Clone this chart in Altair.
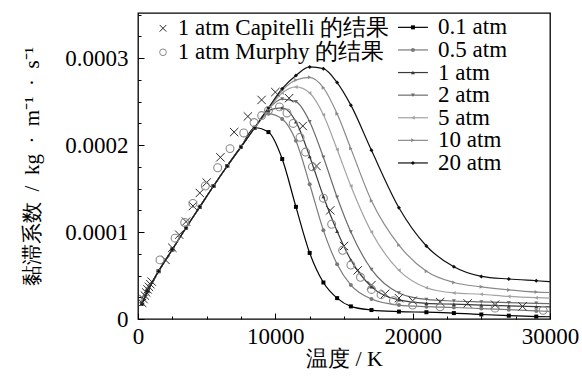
import altair as alt
import pandas as pd

# ---------------- data ----------------
series_names = ["0.1 atm", "0.5 atm", "1 atm", "2 atm", "5 atm", "10 atm", "20 atm"]

T_grid = [300, 700, 1500, 2500, 3500, 4500, 5500, 6500, 7500, 8500, 9500, 10500,
          11500, 12500, 13500, 14500, 15500, 17000, 19000, 21000, 23000, 25000,
          27000, 29000, 30000]

mu_01 = [1.75e-5, 3.2e-5, 5.5e-5, 8.0e-5, 10.5e-5, 12.9e-5, 15.3e-5, 17.6e-5, 19.8e-5, 22.0e-5,
         21.5e-5, 18.4e-5, 12.9e-5, 7.6e-5, 4.2e-5, 2.4e-5, 1.45e-5, 1.03e-5, 0.85e-5, 0.78e-5,
         0.68e-5, 0.52e-5, 0.38e-5, 0.28e-5, 0.26e-5]
mu_05 = [1.75e-5, 3.2e-5, 5.5e-5, 8.0e-5, 10.5e-5, 12.9e-5, 15.3e-5, 17.6e-5, 19.8e-5, 22.0e-5,
         23.6e-5, 23.0e-5, 20.5e-5, 15.5e-5, 10.2e-5, 6.3e-5, 3.9e-5, 2.3e-5, 1.6e-5, 1.42e-5,
         1.32e-5, 1.2e-5, 1.07e-5, 0.93e-5, 0.88e-5]
mu_1 = [1.75e-5, 3.2e-5, 5.5e-5, 8.0e-5, 10.5e-5, 12.9e-5, 15.3e-5, 17.6e-5, 19.8e-5, 22.0e-5,
        24.0e-5, 24.3e-5, 22.7e-5, 18.7e-5, 14.1e-5, 10.1e-5, 6.8e-5, 3.7e-5, 2.2e-5, 1.8e-5,
        1.7e-5, 1.6e-5, 1.5e-5, 1.42e-5, 1.4e-5]
mu_2 = [1.75e-5, 3.2e-5, 5.5e-5, 8.0e-5, 10.5e-5, 12.9e-5, 15.3e-5, 17.6e-5, 19.8e-5, 22.0e-5,
        24.2e-5, 25.3e-5, 25.0e-5, 22.7e-5, 18.6e-5, 14.0e-5, 10.0e-5, 5.7e-5, 3.0e-5, 2.25e-5,
        2.07e-5, 1.97e-5, 1.88e-5, 1.8e-5, 1.77e-5]
mu_5 = [1.75e-5, 3.2e-5, 5.5e-5, 8.0e-5, 10.5e-5, 12.9e-5, 15.3e-5, 17.6e-5, 19.8e-5, 22.0e-5,
        24.2e-5, 26.0e-5, 26.7e-5, 26.0e-5, 23.5e-5, 19.5e-5, 15.3e-5, 10.0e-5, 5.6e-5, 3.6e-5,
        3.0e-5, 2.85e-5, 2.6e-5, 2.45e-5, 2.4e-5]
mu_10 = [1.75e-5, 3.2e-5, 5.5e-5, 8.0e-5, 10.5e-5, 12.9e-5, 15.3e-5, 17.6e-5, 19.8e-5, 22.0e-5,
         24.2e-5, 26.3e-5, 27.5e-5, 27.8e-5, 26.6e-5, 23.6e-5, 19.6e-5, 13.6e-5, 8.5e-5, 5.5e-5,
         4.2e-5, 3.7e-5, 3.35e-5, 3.1e-5, 3.05e-5]
mu_20 = [1.75e-5, 3.2e-5, 5.5e-5, 8.0e-5, 10.5e-5, 12.9e-5, 15.3e-5, 17.6e-5, 19.8e-5, 22.0e-5,
         24.3e-5, 26.5e-5, 28.0e-5, 29.0e-5, 28.8e-5, 27.2e-5, 24.6e-5, 19.4e-5, 12.8e-5, 8.4e-5,
         6.0e-5, 4.9e-5, 4.6e-5, 4.4e-5, 4.3e-5]

cap_T = [300, 400, 500, 600, 700, 800, 900, 1000, 2000, 2500, 3000, 3500, 4000, 4500, 5000,
         6000, 7000, 8000, 9000, 10000, 11000, 12000, 13000, 14000, 15000, 16000, 17000,
         18000, 19000, 20000, 22000, 24000, 26000, 28000]
cap_mu = [1.85e-5, 2.3e-5, 2.7e-5, 3.05e-5, 3.4e-5, 3.7e-5, 4.0e-5, 4.3e-5, 6.8e-5, 8.2e-5,
          9.7e-5, 11.2e-5, 13.0e-5, 14.5e-5, 15.7e-5, 18.6e-5, 21.5e-5, 23.3e-5, 25.2e-5,
          26.1e-5, 25.4e-5, 22.2e-5, 17.6e-5, 12.5e-5, 8.4e-5, 5.6e-5, 3.9e-5, 2.9e-5, 2.4e-5,
          2.1e-5, 1.95e-5, 1.8e-5, 1.65e-5, 1.45e-5]

mur_T = [1600, 2700, 3400, 4000, 4900, 5800, 6700, 7700, 8450, 9000, 9500, 10300, 10850,
         11300, 11800, 12200, 12700, 13500, 14100, 14900, 15500, 16200, 17000, 17700, 18600,
         20000, 22000, 26000, 29500]
mur_mu = [6.8e-5, 9.3e-5, 11.1e-5, 13.3e-5, 15.3e-5, 17.4e-5, 19.6e-5, 21.4e-5, 22.6e-5,
          23.4e-5, 24.0e-5, 24.4e-5, 23.7e-5, 22.5e-5, 20.9e-5, 19.2e-5, 17.5e-5, 13.9e-5,
          10.9e-5, 7.9e-5, 6.2e-5, 4.8e-5, 3.4e-5, 2.8e-5, 2.1e-5, 1.6e-5, 1.4e-5, 1.25e-5,
          1.0e-5]

cap_label = "1 atm Capitelli 的结果"
mur_label = "1 atm Murphy 的结果"
x_title = "温度 / K"
y_title = "黏滞系数\u2002/\u2002kg\u2002·\u2002m⁻¹\u2002·\u2002s⁻¹"

x_ticks = [0, 2500, 5000, 7500, 10000, 12500, 15000, 17500, 20000, 22500, 25000, 27500, 30000]
y_ticks = [0.0, 0.000025, 0.00005, 0.000075, 0.0001, 0.000125, 0.00015, 0.000175, 0.0002,
           0.000225, 0.00025, 0.000275, 0.0003, 0.000325, 0.00035]

# ---------------- styles ----------------
series_colors = ["#000000", "#7a7a7a", "#3a3a3a", "#6c6c6c", "#a2a2a2", "#8a8a8a", "#101010"]
series_shapes = ["square", "circle", "triangle-up", "triangle-down", "triangle-left",
                 "triangle-right", "diamond"]
FONT = "Liberation Serif"
FS = 23

all_mu = [mu_01, mu_05, mu_1, mu_2, mu_5, mu_10, mu_20]
rows = []
for name, vals in zip(series_names, all_mu):
    for t, v in zip(T_grid, vals):
        rows.append({"T": t, "mu": v, "series": name})
df = pd.DataFrame(rows)
df["marker"] = df["T"] < 30000

df_cap = pd.DataFrame({"T": cap_T, "mu": cap_mu})
df_mur = pd.DataFrame({"T": mur_T, "mu": mur_mu})

# legend placement in data units
leg_top = 3.355e-4
leg_step = 2.6e-5
df_leg = pd.DataFrame({
    "series": series_names,
    "mu": [leg_top - i * leg_step for i in range(len(series_names))],
})
df_leg["T"] = 18930
df_leg["T2"] = 21110
df_leg_mark = df_leg.assign(T=20020)
df_leg_text = df_leg.assign(T=21850)

df_leg2 = pd.DataFrame({"label": [cap_label, mur_label], "mu": [3.344e-4, 3.068e-4]})
df_leg2["T"] = 1820
df_leg2_text = df_leg2.assign(T=2900)

# ---------------- axes ----------------
x_axis = alt.Axis(
    values=x_ticks,
    labelExpr="datum.value % 10000 === 0 ? format(datum.value, 'd') : ''",
    tickSize=6, offset=-6, domain=False, grid=False,
    tickColor="black", tickWidth=1,
    tickDash={"condition": {"test": "datum.value % 10000 === 0", "value": [6, 0]},
              "value": [0, 3, 3]},
    labelPadding=6, labelOverlap=False, labelFlush=False,
    labelFont=FONT, labelFontSize=FS, labelColor="black",
    titleFont=FONT, titleFontSize=22, titleFontWeight="normal", titleColor="black",
    titlePadding=0,
)
y_major_test = "abs(datum.value * 10000 - round(datum.value * 10000)) < 0.001"
y_axis = alt.Axis(
    values=y_ticks,
    labelExpr=f"{y_major_test} ? (datum.value == 0 ? '0' : format(datum.value, '.4f')) : ''",
    tickSize=6, offset=-6, domain=False, grid=False,
    tickColor="black", tickWidth=1,
    tickDash={"condition": {"test": y_major_test, "value": [6, 0]}, "value": [0, 3, 3]},
    labelPadding=10, labelOverlap=False, labelFlush=False,
    labelFont=FONT, labelFontSize=FS, labelColor="black",
    titleFont=FONT, titleFontSize=21, titleFontWeight="normal", titleColor="black",
    titlePadding=22,
)

xs = alt.Scale(domain=[0, 30000], nice=False, zero=False)
ys = alt.Scale(domain=[0, 0.000352], nice=False, zero=False)
X = alt.X("T:Q", scale=xs, axis=x_axis, title=x_title)
Y = alt.Y("mu:Q", scale=ys, axis=y_axis, title=y_title)
color_enc = alt.Color("series:N", scale=alt.Scale(domain=series_names, range=series_colors),
                      legend=None)
shape_enc = alt.Shape("series:N", scale=alt.Scale(domain=series_names, range=series_shapes),
                      legend=None)

lines = alt.Chart(df).mark_line(interpolate="monotone", strokeWidth=1.2).encode(
    x=X, y=Y, color=color_enc, detail="series:N")
points = alt.Chart(df).transform_filter("datum.marker").mark_point(
    filled=True, size=16, opacity=1).encode(x=X, y=Y, color=color_enc, shape=shape_enc)

cross_path = "M-1,-1L1,1M-1,1L1,-1"
cap = alt.Chart(df_cap).mark_point(shape=cross_path, size=70, filled=False, color="#2a2a2a",
                                   strokeWidth=1, opacity=1).encode(x=X, y=Y)
mur = alt.Chart(df_mur).mark_point(shape="circle", size=62, filled=False, color="#8a8a8a",
                                   strokeWidth=1.1, opacity=1).encode(x=X, y=Y)

leg_lines = alt.Chart(df_leg).mark_rule(strokeWidth=1.2).encode(
    x=X, x2=alt.X2("T2:Q"), y=Y, color=color_enc)
leg_marks = alt.Chart(df_leg_mark).mark_point(filled=True, size=16, opacity=1).encode(
    x=X, y=Y, color=color_enc, shape=shape_enc)
leg_text = alt.Chart(df_leg_text).mark_text(
    align="left", baseline="middle", font=FONT, fontSize=FS, color="black").encode(
    x=X, y=Y, text="series:N")

leg2_sym = alt.Chart(df_leg2).mark_point(filled=False, opacity=1, strokeWidth=1).encode(
    x=X, y=Y,
    shape=alt.Shape("label:N", scale=alt.Scale(domain=[cap_label, mur_label],
                                               range=[cross_path, "circle"]), legend=None),
    color=alt.Color("label:N", scale=alt.Scale(domain=[cap_label, mur_label],
                                               range=["#2a2a2a", "#8a8a8a"]), legend=None),
    size=alt.Size("label:N", scale=alt.Scale(domain=[cap_label, mur_label],
                                             range=[45, 45]), legend=None),
)
leg2_text = alt.Chart(df_leg2_text).mark_text(
    align="left", baseline="middle", font=FONT, fontSize=FS, color="black").encode(
    x=X, y=Y, text="label:N")

chart = alt.layer(
    lines, points, cap, mur, leg_lines, leg_marks, leg_text, leg2_sym, leg2_text
).resolve_scale(color="independent", shape="independent").properties(
    width=412, height=306,
    autosize=alt.AutoSizeParams(type="none"),
    padding={"left": 138, "top": 13, "right": 32, "bottom": 64},
    background="white",
).configure_view(stroke="black", strokeWidth=1.3)

chart.save("out.html", embed_options={"renderer": "svg", "actions": False})
